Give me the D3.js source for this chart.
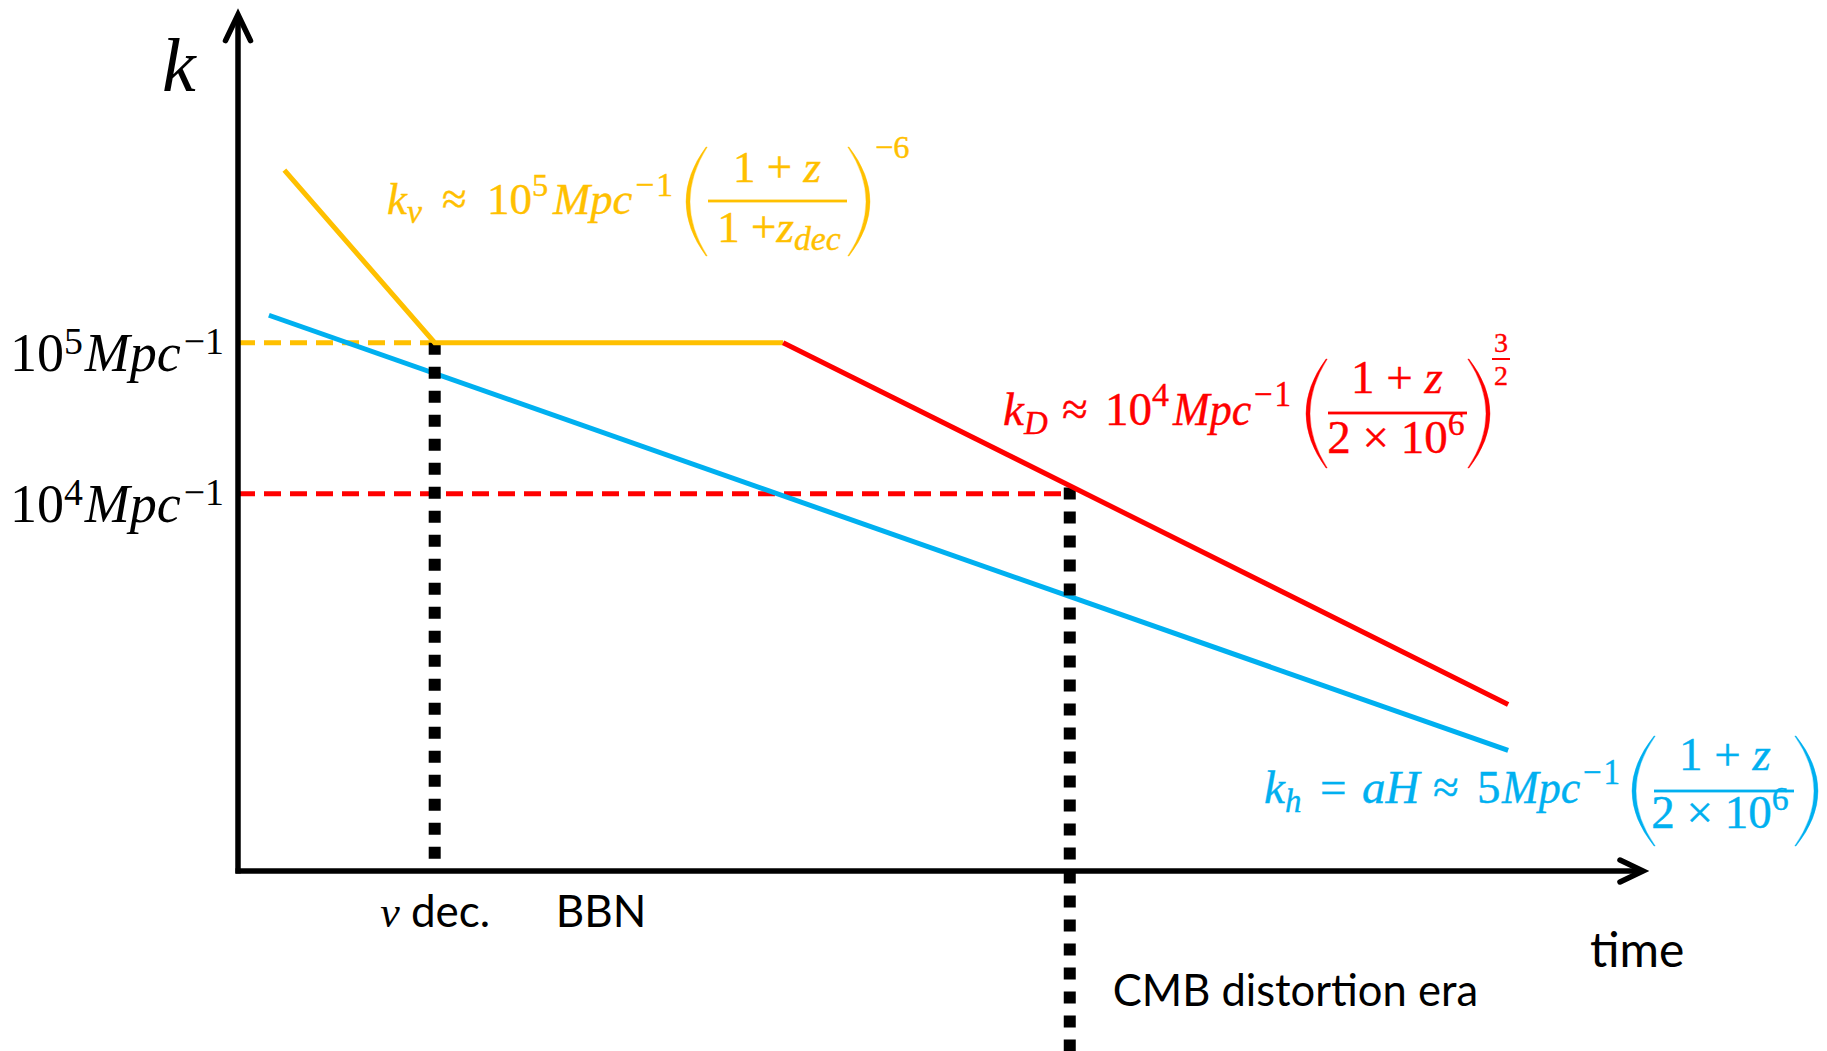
<!DOCTYPE html>
<html>
<head>
<meta charset="utf-8">
<title>k versus time</title>
<script src="https://cdn.jsdelivr.net/npm/d3@7"></script>
<style>
  body { margin: 0; background: #fff; }
  svg { display: block; }
</style>
</head>
<body>
<svg id="chart"></svg>
<script>
var width = 1827, height = 1051;
var serif = '"Liberation Serif", "DejaVu Serif", serif';
var sans = 'Lato, "Open Sans", sans-serif';
var yellow = "#FFC000", blue = "#00B0F0", red = "#FF0000";

// x is schematic time (arbitrary units), y is k in Mpc^-1 on a log axis
var levelK = [1e5, 1e4];
var levelEndT = [14.0, 59.2];
var levelColours = [yellow, red];

// neutrino free streaming scale k_nu
var nuT = [3.3, 14.0, 38.8];
var nuK = [1.39e6, 1e5, 1e5];

// horizon scale k_h
var hT = [2.2, 90.4];
var hK = [1.52e5, 199];

// diffusion damping scale k_D
var dT = [38.8, 90.4];
var dK = [1e5, 401];

// dotted event markers
var markerT = [14.0, 59.2];
var markerTopK = [1e5, 1.1e4];
var markerBottomK = [36, 2];

// labels under the time axis
var eventT = [14.0, 25.8];
var eventLabels = ["ν dec.", "BBN"];

var kMin = Math.pow(10, 1.5), kMax = Math.pow(10, 7.2);

var svg = d3.select("#chart").attr("width", width).attr("height", height);

var x = d3.scaleLinear().domain([0, 100]).range([238, 1643]);
var y = d3.scaleLog().domain([kMin, kMax]).range([871, 10.6]);

var line = d3.line()
  .x(function(d) { return x(d[0]); })
  .y(function(d) { return y(d[1]); });

// write a list of text pieces (sub/superscripts, italics) into a text element
function rich(sel, parts, size) {
  var shift = 0;
  parts.forEach(function(p) {
    var s = p.shift || 0;
    sel.append("tspan")
      .attr("dy", s - shift)
      .attr("dx", p.dx || 0)
      .attr("font-size", (p.scale || 1) * size)
      .attr("font-style", p.it ? "italic" : null)
      .attr("font-family", p.sans ? sans : null)
      .text(p.t);
    shift = s;
  });
}

// dashed guide levels
svg.append("g").selectAll("path.level")
  .data(levelK)
  .enter()
  .append("path")
  .attr("class", "level")
  .attr("d", function(d, i) { return line([[0, d], [levelEndT[i], d]]); })
  .attr("stroke", function(d, i) { return levelColours[i]; })
  .attr("stroke-width", 5)
  .attr("stroke-dasharray", "17,9")
  .attr("fill", "none");

// horizon line
svg.append("path")
  .attr("d", line(d3.zip(hT, hK)))
  .attr("stroke", blue).attr("stroke-width", 5).attr("fill", "none");

// dotted markers
svg.append("g").selectAll("path.marker")
  .data(markerT)
  .enter()
  .append("path")
  .attr("class", "marker")
  .attr("d", function(d, i) { return line([[d, markerTopK[i]], [d, markerBottomK[i]]]); })
  .attr("stroke", "#000")
  .attr("stroke-width", 12)
  .attr("stroke-dasharray", "12,12")
  .attr("fill", "none");

svg.append("path")
  .attr("d", line(d3.zip(nuT, nuK)))
  .attr("stroke", yellow).attr("stroke-width", 5).attr("fill", "none")
  .attr("stroke-linejoin", "miter");

svg.append("path")
  .attr("d", line(d3.zip(dT, dK)))
  .attr("stroke", red).attr("stroke-width", 5).attr("fill", "none");

// axes with arrow heads
var x0 = x(0), y0 = y(kMin), yTop = y(kMax) + 4;
svg.append("path")
  .attr("d", "M" + x0 + "," + (y0 + 2.5) + "V" + (yTop + 2))
  .attr("stroke", "#000").attr("stroke-width", 5.5).attr("fill", "none");
svg.append("path")
  .attr("d", "M" + (x0 - 2.5) + "," + y0 + "H" + (x(100) - 2))
  .attr("stroke", "#000").attr("stroke-width", 5.5).attr("fill", "none");
svg.append("path")
  .attr("d", "M" + (x0 - 12.5) + "," + (yTop + 26) + "L" + x0 + "," + yTop + "L" + (x0 + 12.5) + "," + (yTop + 26))
  .attr("stroke", "#000").attr("stroke-width", 5.5).attr("fill", "none")
  .attr("stroke-linecap", "round").attr("stroke-linejoin", "miter");
svg.append("path")
  .attr("d", "M" + (x(100) - 23) + "," + (y0 - 11) + "L" + x(100) + "," + y0 + "L" + (x(100) - 23) + "," + (y0 + 11))
  .attr("stroke", "#000").attr("stroke-width", 5.5).attr("fill", "none")
  .attr("stroke-linecap", "round").attr("stroke-linejoin", "miter");

// k levels on the left
var yAxis = svg.append("g")
  .attr("transform", "translate(" + x0 + ",0)")
  .call(d3.axisLeft(y).tickValues(levelK).tickSize(0).tickPadding(14).tickFormat(""));
yAxis.select(".domain").remove();
yAxis.attr("font-family", serif).attr("font-size", 54);
yAxis.selectAll(".tick text")
  .attr("y", 28).attr("dy", null)
  .each(function(d) {
    rich(d3.select(this), [
      {t: "10"},
      {t: String(Math.round(Math.log10(d))), scale: 0.7, shift: -17},
      {t: "Mpc", it: 1, dx: 2},
      {t: "−1", scale: 0.7, shift: -17, dx: 3}
    ], 54);
  });

// event labels under the time axis
var xAxis = svg.append("g")
  .attr("transform", "translate(0," + y0 + ")")
  .call(d3.axisBottom(x).tickValues(eventT).tickSize(0).tickFormat(""));
xAxis.select(".domain").remove();
xAxis.attr("font-family", sans).attr("font-size", 44);
xAxis.selectAll(".tick text")
  .attr("y", 56).attr("dy", null)
  .each(function(d, i) {
    var lab = eventLabels[i];
    var parts = /^[α-ω]/.test(lab)
      ? [{t: lab[0], it: 1}, {t: lab.slice(1), sans: 1}]
      : [{t: lab, sans: 1}];
    d3.select(this).attr("font-family", serif);
    rich(d3.select(this), parts, 44);
  });

svg.append("text")
  .attr("x", x(100) - 53).attr("y", 967)
  .attr("font-family", sans).attr("font-size", 48)
  .text("time");

svg.append("text")
  .attr("x", x(markerT[1]) + 43).attr("y", 1006)
  .attr("font-family", sans).attr("font-size", 43.5)
  .text("CMB distortion era");

svg.append("text")
  .attr("x", 162).attr("y", 91)
  .attr("font-family", serif).attr("font-size", 76).attr("font-style", "italic")
  .text("k");

// equations
function parenPath(tip, bulge, top, bot) {
  var mid = (top + bot) / 2;
  var dir = bulge < tip ? 1 : -1;
  var inner = bulge + dir * 4;
  var tip2 = tip + dir * 1.2;
  var c1 = 2 * bulge - tip, c2 = 2 * inner - tip2;
  return "M" + tip + "," + top + "Q" + c1 + "," + mid + " " + tip + "," + bot +
    "L" + tip2 + "," + bot + "Q" + c2 + "," + mid + " " + tip2 + "," + top + "Z";
}

function drawEquation(eq) {
  var g = svg.append("g").attr("fill", eq.colour).attr("font-family", serif)
    .attr("stroke", eq.colour).attr("stroke-width", 0.4);
  eq.pieces.forEach(function(p) {
    var t = g.append("text").attr("x", p.x).attr("y", eq.base);
    if (p.len) t.attr("textLength", p.len).attr("lengthAdjust", "spacingAndGlyphs");
    rich(t, p.parts, eq.size);
  });
  g.append("path").attr("d", parenPath(eq.parens[1], eq.parens[0], eq.parens[4], eq.parens[5]));
  g.append("path").attr("d", parenPath(eq.parens[2], eq.parens[3], eq.parens[4], eq.parens[5]));
  g.append("rect").attr("x", eq.bar[0]).attr("y", eq.bar[2] - 1.4)
    .attr("width", eq.bar[1] - eq.bar[0]).attr("height", 2.8).attr("stroke", "none");
  [eq.num, eq.den].forEach(function(f) {
    var t = g.append("text").attr("x", f.x).attr("y", f.y).attr("text-anchor", "middle");
    rich(t, f.parts, eq.size);
  });
  if (eq.exp) {
    var t = g.append("text").attr("x", eq.exp.x).attr("y", eq.exp.y);
    rich(t, eq.exp.parts, eq.size);
  }
  if (eq.expFrac) {
    var e = eq.expFrac;
    g.append("text").attr("x", e.x).attr("y", e.top).attr("text-anchor", "middle")
      .attr("font-size", e.size).text(e.n);
    g.append("rect").attr("x", e.x - 9).attr("y", e.bar - 1).attr("width", 18).attr("height", 2)
      .attr("stroke", "none");
    g.append("text").attr("x", e.x).attr("y", e.bottom).attr("text-anchor", "middle")
      .attr("font-size", e.size).text(e.d);
  }
}

drawEquation({
  colour: yellow, size: 45, base: 214,
  pieces: [
    {x: 387, parts: [{t: "k", it: 1}, {t: "ν", it: 1, scale: 0.75, shift: 9}]},
    {x: 442, parts: [{t: "≈"}]},
    {x: 487, parts: [{t: "10"}, {t: "5", scale: 0.72, shift: -18}]},
    {x: 553, len: 120, parts: [{t: "Mpc", it: 1}, {t: "−", scale: 0.75, shift: -18, dx: 3}, {t: "1", scale: 0.75, shift: -18, dx: 2}]}
  ],
  parens: [686, 706, 849, 870, 147, 256],
  bar: [708, 847, 201],
  num: {x: 777, y: 182, parts: [{t: "1 + "}, {t: "z", it: 1}]},
  den: {x: 779, y: 242, parts: [{t: "1 +"}, {t: "z", it: 1}, {t: "dec", it: 1, scale: 0.75, shift: 8}]},
  exp: {x: 875, y: 158, parts: [{t: "−6", scale: 0.72}]}
});

drawEquation({
  colour: red, size: 47, base: 425,
  pieces: [
    {x: 1003, parts: [{t: "k", it: 1}, {t: "D", it: 1, scale: 0.7, shift: 9}]},
    {x: 1062, parts: [{t: "≈"}]},
    {x: 1105, parts: [{t: "10"}, {t: "4", scale: 0.72, shift: -19}]},
    {x: 1173, len: 118, parts: [{t: "Mpc", it: 1}, {t: "−", scale: 0.75, shift: -19, dx: 3}, {t: "1", scale: 0.75, shift: -19, dx: 2}]}
  ],
  parens: [1306, 1326, 1469, 1490, 359, 468],
  bar: [1328, 1467, 413],
  num: {x: 1397, y: 393, parts: [{t: "1 + "}, {t: "z", it: 1}]},
  den: {x: 1396, y: 453, parts: [{t: "2 × 10"}, {t: "6", scale: 0.72, shift: -18}]},
  expFrac: {x: 1501, top: 352, bar: 359, bottom: 385, size: 28, n: "3", d: "2"}
});

drawEquation({
  colour: blue, size: 47, base: 803,
  pieces: [
    {x: 1264, parts: [{t: "k", it: 1}, {t: "h", it: 1, scale: 0.7, shift: 9}]},
    {x: 1320, parts: [{t: "="}]},
    {x: 1362, parts: [{t: "aH", it: 1}]},
    {x: 1433, parts: [{t: "≈"}]},
    {x: 1477, parts: [{t: "5"}]},
    {x: 1502, len: 118, parts: [{t: "Mpc", it: 1}, {t: "−", scale: 0.75, shift: -19, dx: 3}, {t: "1", scale: 0.75, shift: -19, dx: 2}]}
  ],
  parens: [1632, 1654, 1796, 1818, 736, 846],
  bar: [1654, 1794, 791],
  num: {x: 1725, y: 770, parts: [{t: "1 + "}, {t: "z", it: 1}]},
  den: {x: 1720, y: 828, parts: [{t: "2 × 10"}, {t: "6", scale: 0.72, shift: -18}]}
});
</script>
</body>
</html>
